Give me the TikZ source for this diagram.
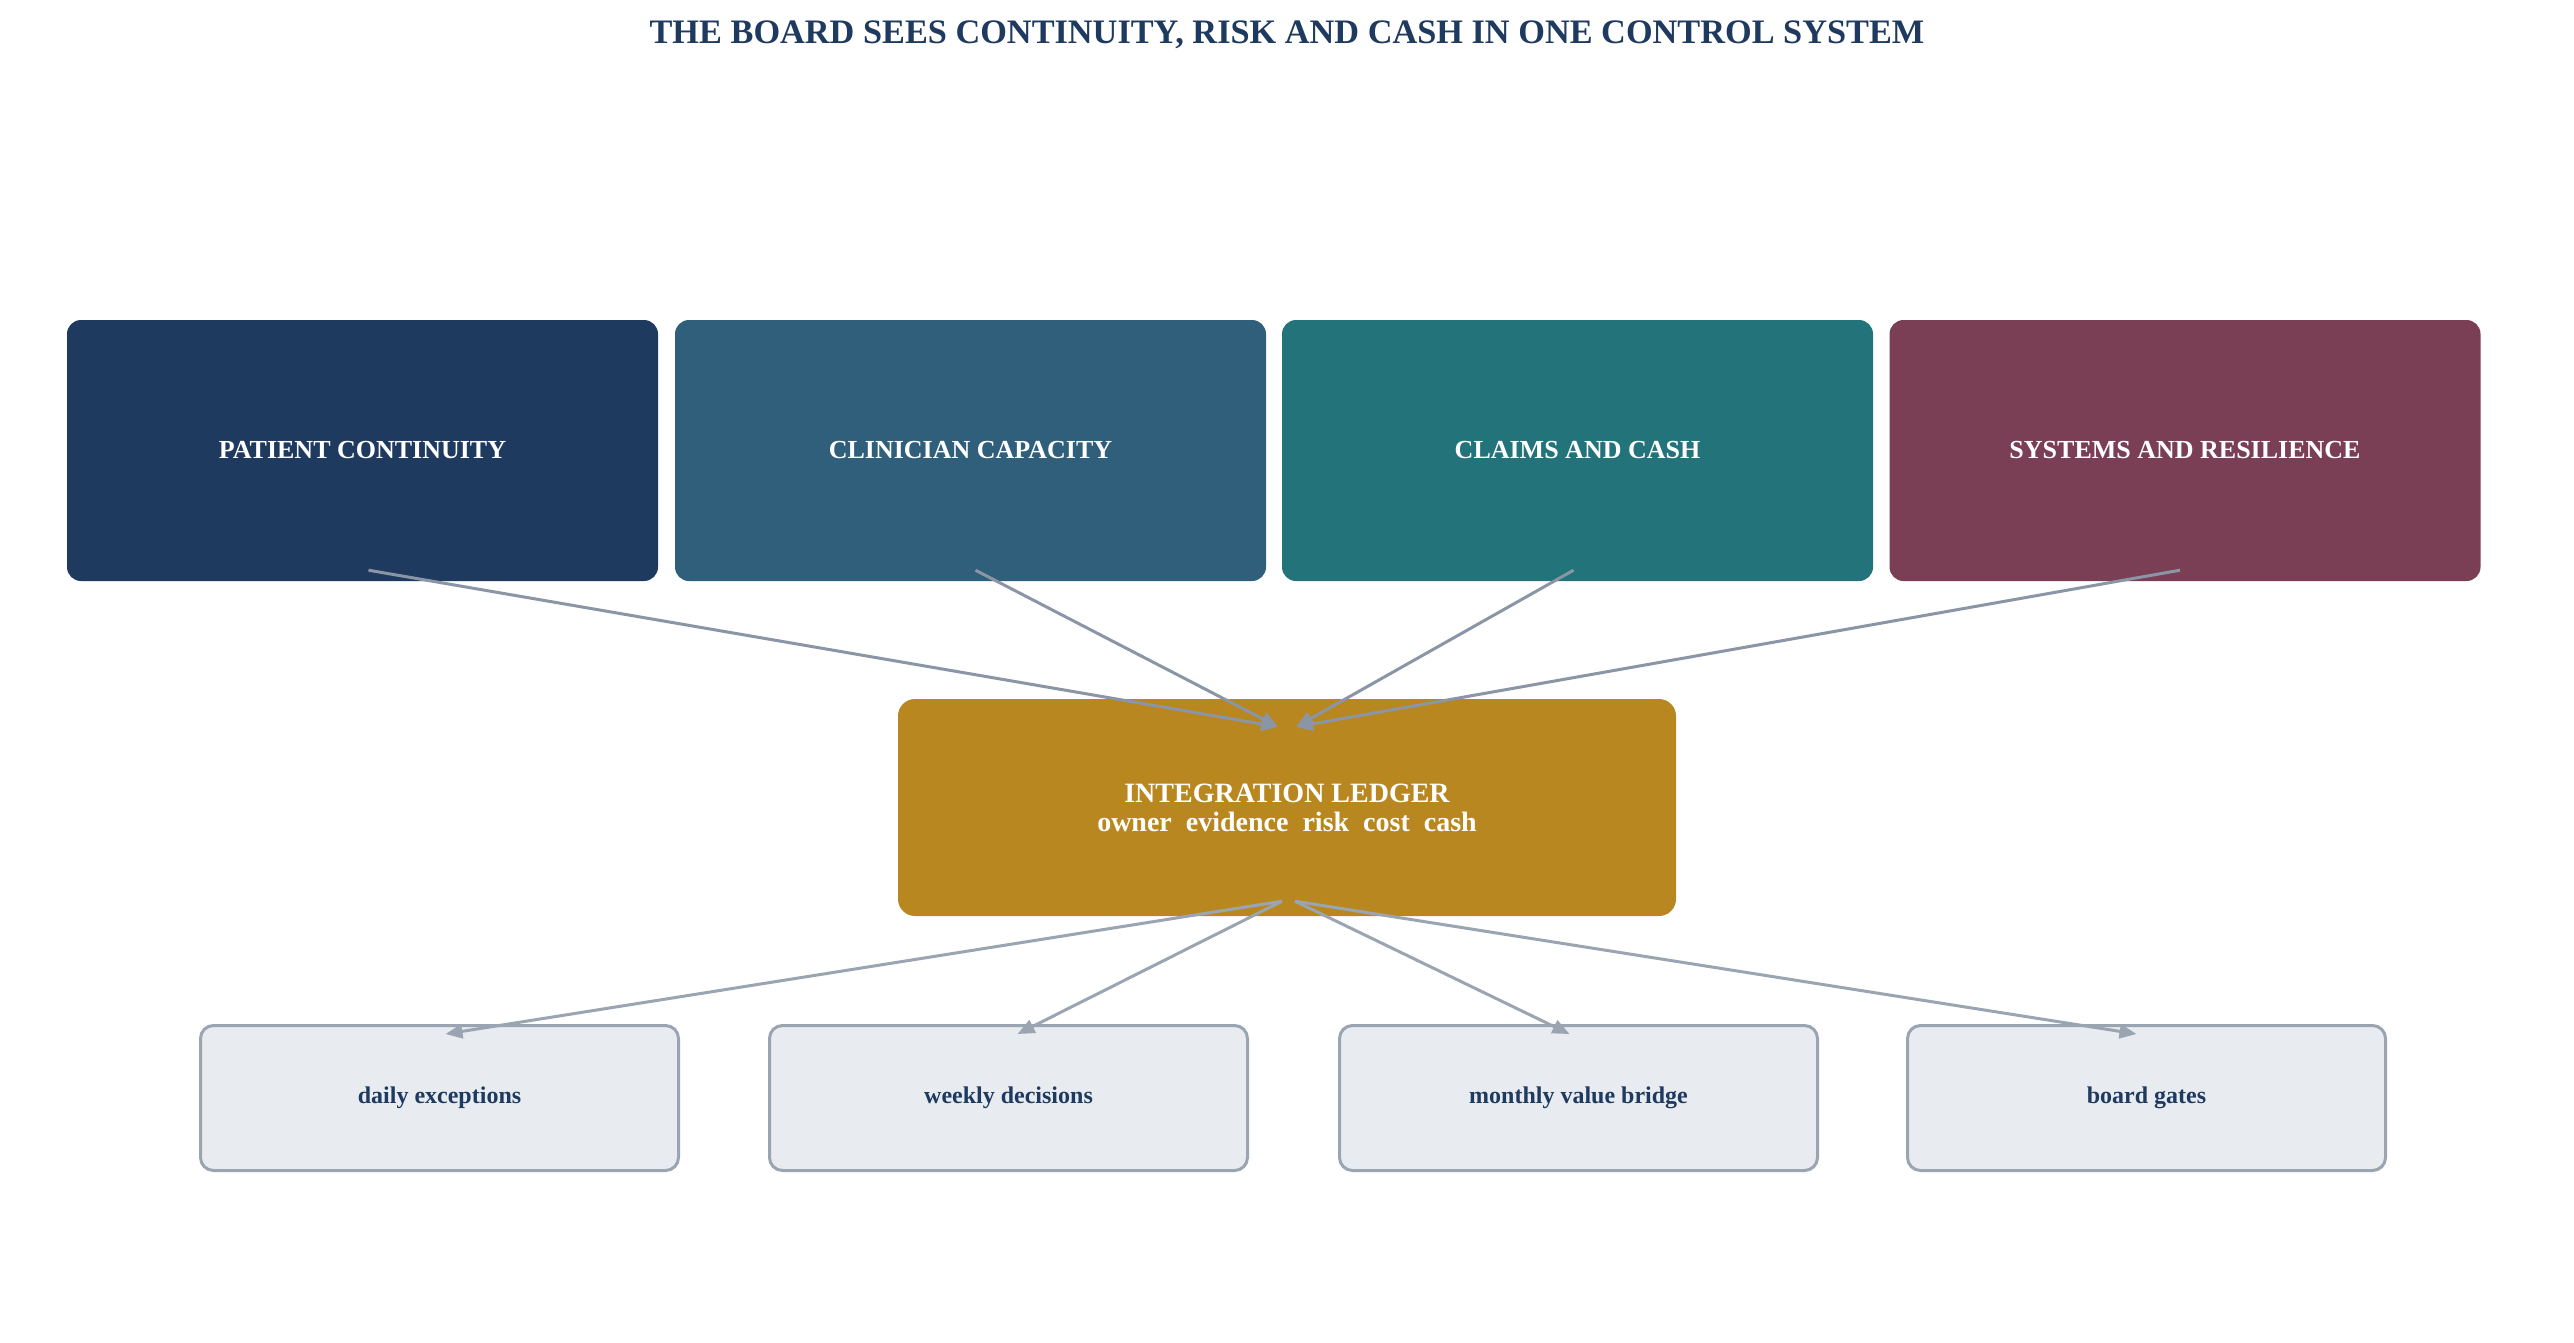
\documentclass[tikz,border=0pt]{standalone}
\usepackage{fontspec}
\setmainfont{Liberation Serif}
\usetikzlibrary{arrows.meta}
\definecolor{navy}{HTML}{1F3A5F}
\definecolor{steel}{HTML}{2F5F7A}
\definecolor{tealc}{HTML}{23737A}
\definecolor{plum}{HTML}{7A3F55}
\definecolor{gold}{HTML}{B88720}
\definecolor{paleb}{HTML}{E8ECF1}
\definecolor{edgeg}{HTML}{9AA5B1}
\definecolor{arrg}{HTML}{8A95A5}
\tikzset{
  topbox/.style={rectangle, rounded corners=14pt, minimum width=591pt, minimum height=261pt,
    text=white, font=\fontsize{26}{30}\selectfont\bfseries, inner sep=0pt},
  ledgerbox/.style={rectangle, rounded corners=17pt, fill=gold, minimum width=778pt, minimum height=217pt,
    text=white, font=\fontsize{28}{30}\selectfont\bfseries, align=center, inner sep=0pt},
  outbox/.style={rectangle, rounded corners=13pt, fill=paleb, draw=edgeg, line width=3pt,
    minimum width=478pt, minimum height=145pt, text=navy, font=\fontsize{24}{28}\selectfont\bfseries, inner sep=0pt},
  inarrow/.style={draw=arrg, line width=3pt, -{Triangle[length=17pt,width=14pt]}},
  outarrow/.style={draw=edgeg, line width=3pt, -{Triangle[length=17pt,width=14pt]}},
}
\begin{document}
\begin{tikzpicture}[x=1pt,y=-1pt]
\useasboundingbox (0,0) rectangle (2574,1342);
\fill[white] (0,0) rectangle (2574,1342);
\node[text=navy, font=\fontsize{34.3}{40}\selectfont\bfseries] (title) at (1287,35) {THE BOARD SEES CONTINUITY, RISK AND CASH IN ONE CONTROL SYSTEM};

\node[topbox, fill=navy]  (p1) at (362.5,450.5)  {PATIENT CONTINUITY};
\node[topbox, fill=steel] (p2) at (970.5,450.5)  {CLINICIAN CAPACITY};
\node[topbox, fill=tealc] (p3) at (1577.5,450.5) {CLAIMS AND CASH};
\node[topbox, fill=plum]  (p4) at (2185,450.5)   {SYSTEMS AND RESILIENCE};

\node[ledgerbox] (L) at (1287,807.5) {INTEGRATION LEDGER\\[-1pt]owner\ \ evidence\ \ risk\ \ cost\ \ cash};

\node[outbox] (o1) at (439.5,1098)  {daily exceptions};
\node[outbox] (o2) at (1008.5,1098) {weekly decisions};
\node[outbox] (o3) at (1578.5,1098) {monthly value bridge};
\node[outbox] (o4) at (2146.5,1098) {board gates};

\draw[inarrow] ([xshift=6pt,yshift=11pt]p1.south) -- ([xshift=-9pt,yshift=-28pt]L.north);
\draw[inarrow] ([xshift=5pt,yshift=11pt]p2.south) -- ([xshift=-9pt,yshift=-28pt]L.north);
\draw[inarrow] ([xshift=-4pt,yshift=11pt]p3.south) -- ([xshift=9pt,yshift=-28pt]L.north);
\draw[inarrow] ([xshift=-5pt,yshift=11pt]p4.south) -- ([xshift=9pt,yshift=-28pt]L.north);

\draw[outarrow] ([xshift=-5pt,yshift=15pt]L.south) -- ([xshift=6pt,yshift=-10pt]o1.north);
\draw[outarrow] ([xshift=-5pt,yshift=15pt]L.south) -- ([xshift=9pt,yshift=-10pt]o2.north);
\draw[outarrow] ([xshift=8pt,yshift=15pt]L.south) -- ([xshift=-9pt,yshift=-10pt]o3.north);
\draw[outarrow] ([xshift=8pt,yshift=15pt]L.south) -- ([xshift=-10pt,yshift=-10pt]o4.north);
\end{tikzpicture}
\end{document}
